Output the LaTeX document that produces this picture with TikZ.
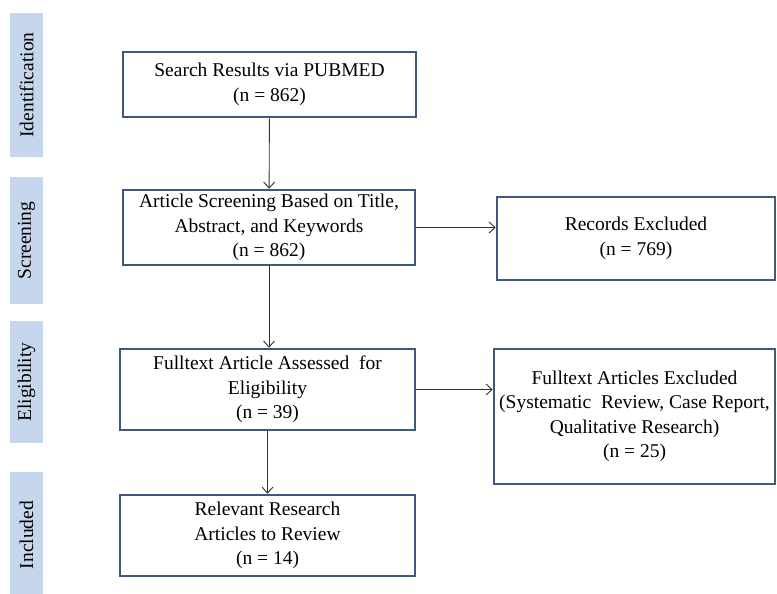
\documentclass[tikz,border=0pt]{standalone}
\usepackage{fontspec}
\setmainfont{Liberation Serif}
\usetikzlibrary{arrows.meta}
\definecolor{bandfill}{RGB}{198,214,236}
\definecolor{boxline}{RGB}{62,88,128}
\tikzset{
  band/.style={fill=bandfill, rotate=90, minimum height=33pt, inner sep=0pt, font=\fontsize{19.5}{24}\selectfont},
  flowbox/.style={draw=boxline, line width=2.6pt, fill=white, align=center, inner sep=2pt, font=\fontsize{19.5}{24.5}\selectfont},
  arr/.style={-{Straight Barb[length=6pt,width=11pt]}, line width=0.9pt, color=black!80}
}
\begin{document}
\begin{tikzpicture}[x=1pt,y=-1pt]
\useasboundingbox (0,0) rectangle (777,594);
% phase bands on the left
\node[band, minimum width=144pt] (ident) at (26.5,85) {Identification};
\node[band, minimum width=127pt] (screening) at (26.5,240.5) {Screening};
\node[band, minimum width=122pt] (elig) at (26.5,382) {Eligibility};
\node[band, minimum width=126pt] (incl) at (26.5,535) {Included};
% boxes
\node[flowbox, minimum width=293pt, minimum height=65pt] (search) at (269.5,84.5) {Search Results via PUBMED\\(n = 862)};
\node[flowbox, minimum width=292pt, minimum height=75pt] (screen) at (269,227.5) {Article Screening Based on Title,\\Abstract, and Keywords\\(n = 862)};
\node[flowbox, minimum width=278pt, minimum height=83pt] (records) at (636,238.5) {Records Excluded\\(n = 769)};
\node[flowbox, minimum width=295pt, minimum height=81pt] (assess) at (267.5,389.5) {Fulltext Article Assessed~ for\\Eligibility\\(n = 39)};
\node[flowbox, minimum width=281pt, minimum height=135pt] (excl) at (634.5,416.5) {Fulltext Articles Excluded\\(Systematic~ Review, Case Report,\\Qualitative Research)\\(n = 25)};
\node[flowbox, minimum width=295pt, minimum height=81pt] (relevant) at (267.5,535.5) {Relevant Research\\Articles to Review\\(n = 14)};
% connectors
\draw[arr] (search) -- (screen);
\draw[arr] (screen.east) -- (screen.east -| records.west);
\draw[arr] (screen.south) -- (screen.south |- assess.north);
\draw[arr] (assess.east) -- (assess.east -| excl.west);
\draw[arr] (assess) -- (relevant);
\end{tikzpicture}
\end{document}
